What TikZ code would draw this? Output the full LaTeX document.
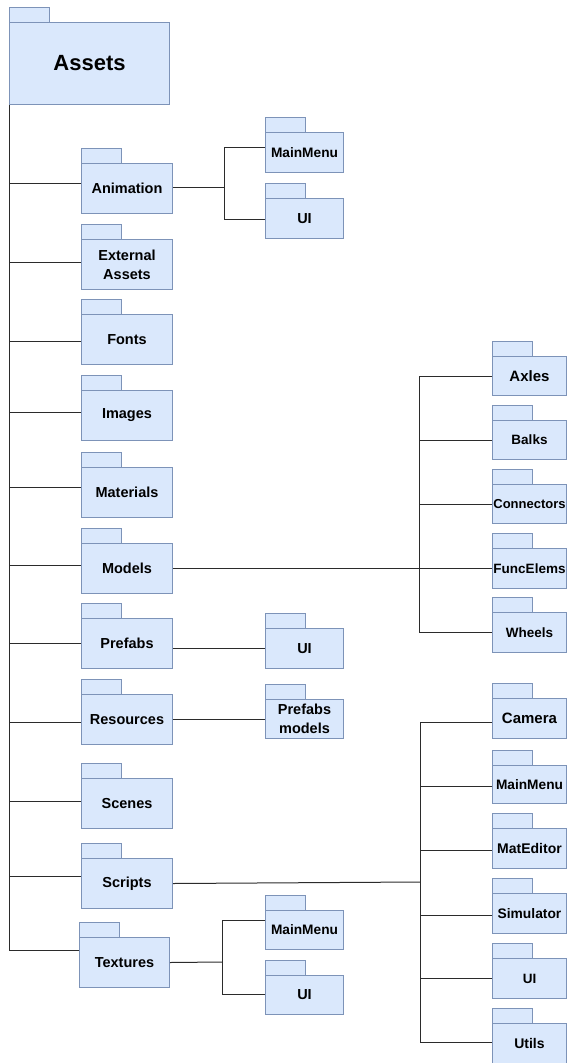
\documentclass[tikz,border=0pt]{standalone}
\usepackage{fontspec}
\setmainfont{Liberation Sans}
\definecolor{fillb}{HTML}{DAE8FC}
\definecolor{strokeb}{HTML}{7D93B8}
\definecolor{linec}{HTML}{2B2B2B}
% name, x, tab top, width, body height, font size, baselineskip, text
\newcommand{\pkgfolder}[8]{%
  \node[fbody, minimum width=#4pt, minimum height=#5pt,
        font=\bfseries\fontsize{#6}{#7}\selectfont, anchor=north west]
        (#1) at (#2,#3+15) {#8};
  \draw[ftab] (#1.north west) rectangle ++(40,-15);}
\begin{document}
\begin{tikzpicture}[x=1pt,y=-1pt,
  fbody/.style={draw=strokeb, fill=fillb, line width=1pt, inner sep=0pt, align=center, text=black},
  ftab/.style={draw=strokeb, fill=fillb, line width=1pt},
  conn/.style={draw=linec, line width=1pt}]
\useasboundingbox (0,0) rectangle (571,1063);

% root
\pkgfolder{assets}{9}{7}{160}{82}{22}{26}{Assets}

% level 1
\pkgfolder{anim}{81}{148}{91}{50}{14.5}{19}{Animation}
\pkgfolder{ext}{81}{224}{91}{50}{14.5}{19}{External\\Assets}
\pkgfolder{fonts}{81}{299}{91}{50}{14.5}{19}{Fonts}
\pkgfolder{images}{81}{375}{91}{50}{14.5}{19}{Images}
\pkgfolder{mat}{81}{452}{91}{50}{14.5}{19}{Materials}
\pkgfolder{models}{81}{528}{91}{50}{14.5}{19}{Models}
\pkgfolder{prefabs}{81}{603}{91}{50}{14.5}{19}{Prefabs}
\pkgfolder{res}{81}{679}{91}{50}{14.5}{19}{Resources}
\pkgfolder{scenes}{81}{763}{91}{50}{14.5}{19}{Scenes}
\pkgfolder{scripts}{81}{843}{91}{50}{14.5}{19}{Scripts}
\pkgfolder{textures}{79}{922}{90}{50}{14.5}{19}{Textures}

% children, middle column
\pkgfolder{amm}{265}{117}{78}{40}{13.7}{19}{MainMenu}
\pkgfolder{aui}{265}{183}{78}{40}{14.5}{19}{UI}
\pkgfolder{pui}{265}{613}{78}{40}{14.5}{19}{UI}
\pkgfolder{pm}{265}{684}{78}{39}{14.5}{19}{Prefabs\\models}
\pkgfolder{tmm}{265}{895}{78}{39}{13.7}{19}{MainMenu}
\pkgfolder{tui}{265}{960}{78}{39}{14.5}{19}{UI}

% children of Models
\pkgfolder{axles}{492}{341}{74}{39}{15}{19}{Axles}
\pkgfolder{balks}{492}{405}{74}{39}{13.5}{19}{Balks}
\pkgfolder{connectors}{492}{469}{74}{39}{13}{19}{Connectors}
\pkgfolder{funcelems}{492}{533}{74}{40}{13.5}{19}{FuncElems}
\pkgfolder{wheels}{492}{597}{74}{40}{13.5}{19}{Wheels}

% children of Scripts
\pkgfolder{camera}{492}{683}{74}{40}{15}{19}{Camera}
\pkgfolder{smm}{492}{750}{74}{38}{13.7}{19}{MainMenu}
\pkgfolder{mated}{492}{813}{74}{40}{14}{19}{MatEditor}
\pkgfolder{sim}{492}{878}{74}{40}{13.8}{19}{Simulator}
\pkgfolder{sui}{492}{943}{74}{40}{13.5}{19}{UI}
\pkgfolder{utils}{492}{1008}{74}{40}{14}{19}{Utils}

% trunk and level-1 connectors
\draw[conn] (assets.south west) |- (textures.west |- 0,950);
\draw[conn] (assets.south west |- 0,183) -- (anim.west |- 0,183);
\draw[conn] (assets.south west |- 0,262) -- (ext.west |- 0,262);
\draw[conn] (assets.south west |- 0,341) -- (fonts.west |- 0,341);
\draw[conn] (assets.south west |- 0,412) -- (images.west |- 0,412);
\draw[conn] (assets.south west |- 0,487) -- (mat.west |- 0,487);
\draw[conn] (assets.south west |- 0,565) -- (models.west |- 0,565);
\draw[conn] (assets.south west |- 0,643) -- (prefabs.west |- 0,643);
\draw[conn] (assets.south west |- 0,722) -- (res.west |- 0,722);
\draw[conn] (assets.south west |- 0,801) -- (scenes.west |- 0,801);
\draw[conn] (assets.south west |- 0,876) -- (scripts.west |- 0,876);

% Animation branch
\coordinate (aj) at (224,187);
\draw[conn] (anim.east |- aj) -- (aj);
\draw[conn] (amm.west |- 0,147) -| (aj |- 0,219) -- (aui.west |- 0,219);

% Models branch
\coordinate (mj) at (419,568);
\draw[conn] (models.east) -- (models.east -| funcelems.west);
\draw[conn] (axles.west) -| (mj |- wheels.west) -- (wheels.west);
\draw[conn] (balks.west) -- (balks.west -| mj);
\draw[conn] (connectors.west) -- (connectors.west -| mj);

% Prefabs and Resources
\draw[conn] (prefabs.east |- pui.west) -- (pui.west);
\draw[conn] (res.east |- pm.west) -- (pm.west);

% Scripts branch
\coordinate (sj) at (420,882);
\draw[conn] (scripts.east) -- (sj);
\draw[conn] (camera.west |- 0,722) -| (sj |- 0,1042) -- (utils.west |- 0,1042);
\draw[conn] (smm.west |- 0,786) -- (sj |- 0,786);
\draw[conn] (mated.west |- 0,850) -- (sj |- 0,850);
\draw[conn] (sim.west |- 0,915) -- (sj |- 0,915);
\draw[conn] (sui.west |- 0,978) -- (sj |- 0,978);

% Textures branch
\coordinate (tj) at (222,962);
\draw[conn] (textures.east) -- (tj);
\draw[conn] (tmm.west |- 0,920) -| (tj |- 0,994) -- (tui.west |- 0,994);
\end{tikzpicture}
\end{document}
